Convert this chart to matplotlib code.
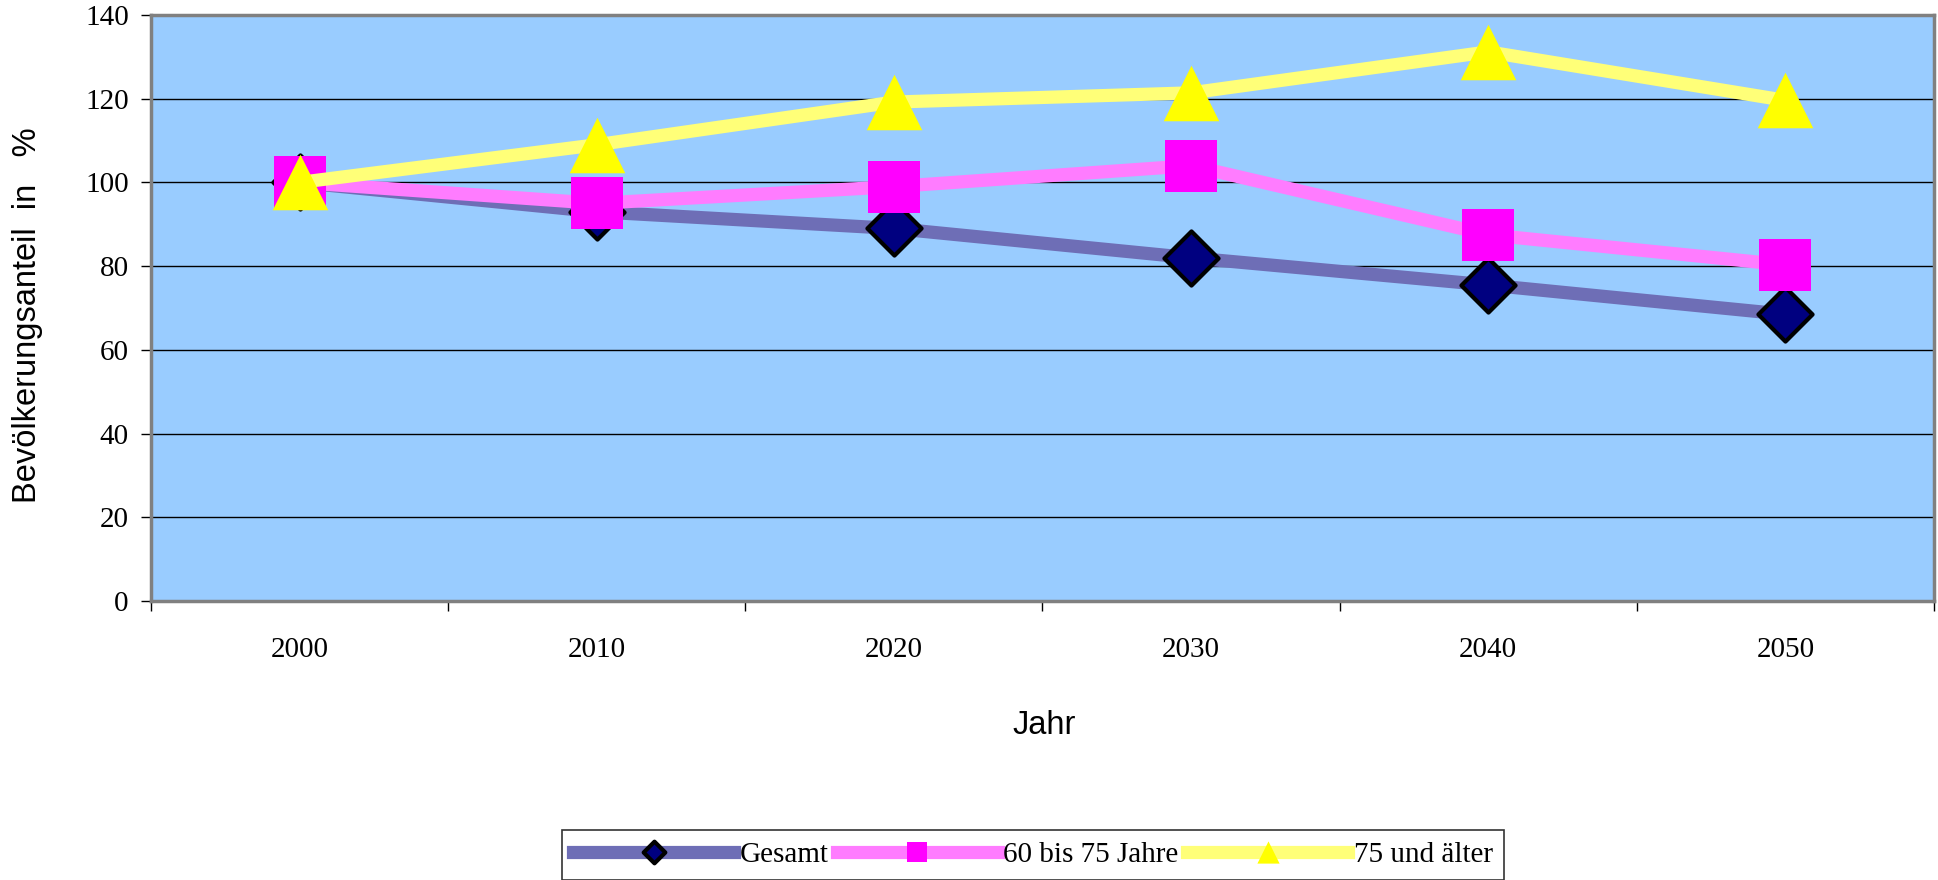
import matplotlib.pyplot as plt
import numpy as np
from matplotlib.path import Path

jahre = ['2000', '2010', '2020', '2030', '2040', '2050']
gesamt = [100, 93, 89, 82, 75.5, 68.5]
jahre_60_75 = [100, 95, 99, 104, 87.5, 80.3]
ab_75 = [100, 109, 119.2, 121.4, 131.2, 119.6]
namen = ['Gesamt', '60 bis 75 Jahre', '75 und älter']

raute = Path([(0, 0.5), (0.5, 0), (0, -0.5), (-0.5, 0), (0, 0.5)],
             [Path.MOVETO, Path.LINETO, Path.LINETO, Path.LINETO, Path.CLOSEPOLY])
dreieck = Path([(-0.5, -0.5), (0.5, -0.5), (0, 0.5), (-0.5, -0.5)],
               [Path.MOVETO, Path.LINETO, Path.LINETO, Path.CLOSEPOLY])

fig = plt.figure(figsize=(19.38, 8.8), dpi=100)
ax = fig.add_axes([151/1938, 1 - 601/880, (1934 - 151)/1938, 586/880])
ax.set_facecolor('#99ccff')

x = np.arange(len(jahre))
ax.plot(x, gesamt, color='#6e6eb6', lw=9.5, marker=raute, ms=39,
        mfc='#000080', mec='black', mew=3, label=namen[0], zorder=3)
ax.plot(x, jahre_60_75, color='#ff7cff', lw=9.5, marker='s', ms=37,
        mfc='#ff00ff', mec='#ff00ff', mew=0, label=namen[1], zorder=4)
ax.plot(x, ab_75, color='#ffff78', lw=9.5, marker=dreieck, ms=40,
        mfc='#ffff00', mec='#ffff00', mew=0, label=namen[2], zorder=5)

ax.set_xlim(-0.5, len(jahre) - 0.5)
ax.set_ylim(0, 140)
ax.set_yticks(np.arange(0, 141, 20))
ax.yaxis.grid(True, color='black', lw=1.0)
ax.set_axisbelow(True)

ax.set_xticks(x)
ax.set_xticklabels(jahre)
ax.set_xticks(np.arange(-0.5, len(jahre)), minor=True)
ax.tick_params(axis='x', which='major', length=0, pad=26)
ax.tick_params(axis='x', which='minor', length=7, width=1, direction='out')
ax.tick_params(axis='y', length=7, width=1, direction='out', pad=9)
for lab in ax.get_xticklabels() + ax.get_yticklabels():
    lab.set_fontfamily('Liberation Serif')
    lab.set_fontsize(21)

for s in ax.spines.values():
    s.set_color('#808080')
    s.set_linewidth(2.5)

fig.text(28/1938, 1 - 315/880, 'Bevölkerungsanteil  in   %', rotation=90,
         ha='center', va='center', family='Liberation Sans', fontsize=23.5)
fig.text(1044/1938, 1 - 725/880, 'Jahr', ha='center', va='center',
         family='Liberation Sans', fontsize=23.5)

leg = fig.legend(loc='center', bbox_to_anchor=(1033/1938, 1 - 855/880), ncol=3,
                 prop={'family': 'Liberation Serif', 'size': 21},
                 handlelength=5.5, handletextpad=0.2, columnspacing=0.3,
                 markerscale=0.4, fancybox=False, edgecolor='black',
                 borderpad=0.4, borderaxespad=0)
leg.get_frame().set_linewidth(1.2)

fig.savefig('out.png', dpi=100)
